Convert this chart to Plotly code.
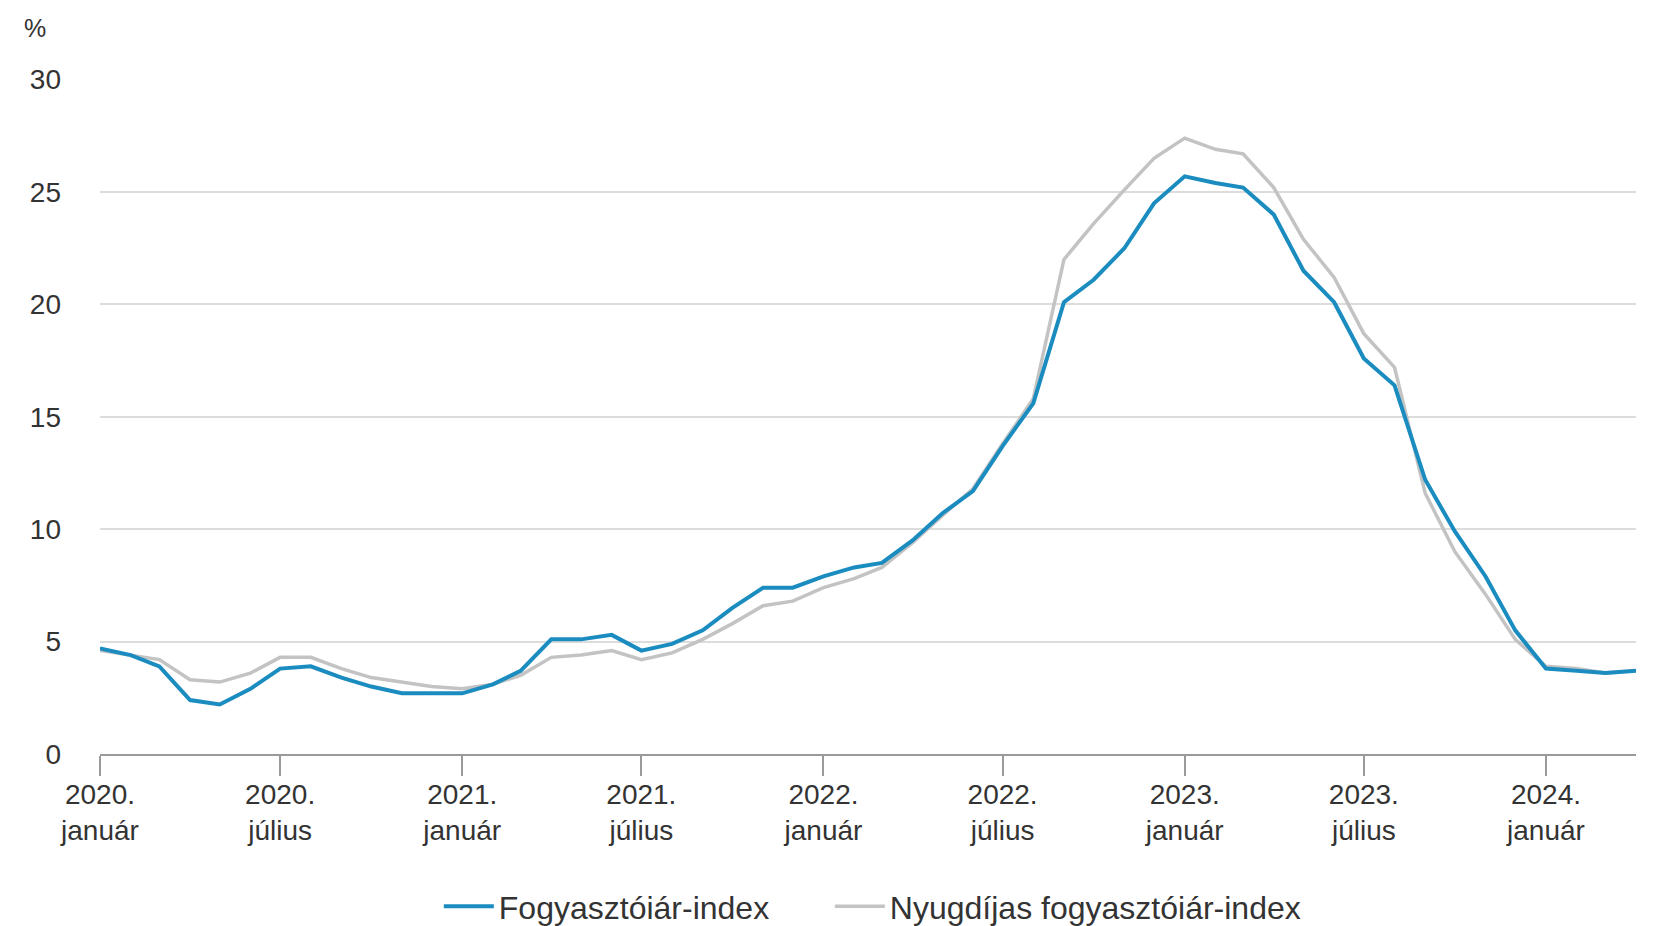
import pandas as pd
import plotly.graph_objects as go

months = pd.date_range("2020-01-01", "2024-04-01", freq="MS")

cpi = [4.7, 4.4, 3.9, 2.4, 2.2, 2.9, 3.8, 3.9, 3.4, 3.0, 2.7, 2.7,
       2.7, 3.1, 3.7, 5.1, 5.1, 5.3, 4.6, 4.9, 5.5, 6.5, 7.4, 7.4,
       7.9, 8.3, 8.5, 9.5, 10.7, 11.7, 13.7, 15.6, 20.1, 21.1, 22.5, 24.5,
       25.7, 25.4, 25.2, 24.0, 21.5, 20.1, 17.6, 16.4, 12.2, 9.9, 7.9, 5.5,
       3.8, 3.7, 3.6, 3.7]

pension_cpi = [4.6, 4.4, 4.2, 3.3, 3.2, 3.6, 4.3, 4.3, 3.8, 3.4, 3.2, 3.0,
               2.9, 3.1, 3.5, 4.3, 4.4, 4.6, 4.2, 4.5, 5.1, 5.8, 6.6, 6.8,
               7.4, 7.8, 8.3, 9.4, 10.6, 11.8, 13.8, 15.8, 22.0, 23.6, 25.1, 26.5,
               27.4, 26.9, 26.7, 25.2, 22.9, 21.2, 18.7, 17.2, 11.6, 9.0, 7.1, 5.1,
               3.9, 3.8, 3.6, 3.7]

tick_dates = ["2020-01-01", "2020-07-01", "2021-01-01", "2021-07-01", "2022-01-01",
              "2022-07-01", "2023-01-01", "2023-07-01", "2024-01-01"]
tick_text = ["2020.<br>január", "2020.<br>július", "2021.<br>január", "2021.<br>július",
             "2022.<br>január", "2022.<br>július", "2023.<br>január", "2023.<br>július",
             "2024.<br>január"]

series_names = ["Fogyasztóiár-index", "Nyugdíjas fogyasztóiár-index"]

FONT = "Liberation Sans, Arial, sans-serif"
TXT = "#333333"

fig = go.Figure()
fig.add_trace(go.Scatter(x=months, y=pension_cpi, mode="lines", name=series_names[1],
                         line=dict(color="#c3c3c3", width=3.5), legend="legend2"))
fig.add_trace(go.Scatter(x=months, y=cpi, mode="lines", name=series_names[0],
                         line=dict(color="#1a8cbf", width=4), legend="legend"))

legend_common = dict(orientation="h", xref="container", yref="container",
                     y=-0.0095, yanchor="bottom", xanchor="left",
                     font=dict(size=32, color=TXT), itemwidth=50,
                     bgcolor="rgba(0,0,0,0)")

fig.update_layout(
    width=1657, height=926,
    margin=dict(l=92, r=29, t=71, b=180),
    paper_bgcolor="white", plot_bgcolor="white",
    font=dict(family=FONT, size=28, color=TXT),
    showlegend=True,
    legend=dict(x=0.26, **legend_common),
    legend2=dict(x=0.496, **legend_common),
    annotations=[dict(text="%", xref="paper", yref="paper", x=-0.042, y=1.075,
                      xanchor="center", yanchor="middle", showarrow=False,
                      font=dict(size=25, color=TXT))],
)

fig.update_xaxes(
    range=["2020-01-01", "2024-04-01"],
    tickvals=tick_dates, ticktext=tick_text,
    showgrid=False, showline=True, linecolor="#9a9a9a", linewidth=2,
    ticks="outside", ticklen=20, tickcolor="#9a9a9a", tickwidth=2,
    ticklabelstandoff=-6,
    tickfont=dict(size=28, color=TXT), zeroline=False,
)
fig.update_yaxes(
    range=[0, 30.03], tickvals=[0, 5, 10, 15, 20, 25, 30],
    showgrid=True, gridcolor="#dcdcdc", gridwidth=2,
    zeroline=False, showline=False, ticks="",
    ticklabelstandoff=38,
    tickfont=dict(size=28, color=TXT),
)

fig.write_html("out.html")
